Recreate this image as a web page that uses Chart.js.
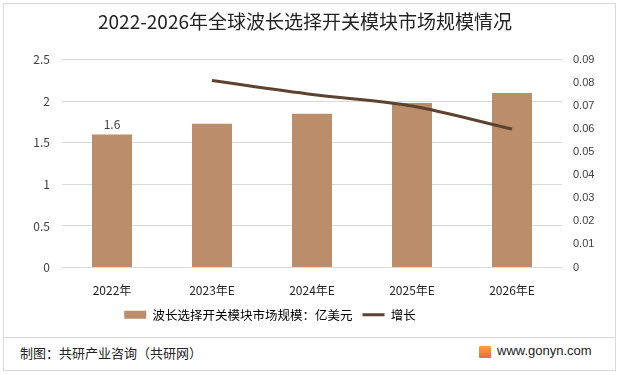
<!DOCTYPE html>
<html>
<head>
<meta charset="utf-8">
<script src="https://cdn.jsdelivr.net/npm/chart.js@4.4.0/dist/chart.umd.min.js"></script>
<style>
  body { margin: 0; background: #fff; }
  #wrap { position: relative; width: 624px; height: 375px; overflow: hidden; }
  #frame { position: absolute; left: 3px; top: 3px; width: 613px; height: 368px; border: 1px solid #d9d9d9; box-sizing: border-box; }
  #sep { position: absolute; left: 4px; top: 337px; width: 611px; height: 1px; background: #d9d9d9; }
  #chart { position: absolute; left: 0; top: 0; }
  #source { position: absolute; left: 20px; top: 343px; font: 13px 'Noto Sans CJK SC', sans-serif; color: #222; }
  #site { position: absolute; left: 497px; top: 343px; font: 13px 'Liberation Sans', Arial, sans-serif; color: #222; }
  #logo { position: absolute; left: 479px; top: 346px; width: 12px; height: 12px; background: linear-gradient(#f7a14a, #ee6a2d); border-radius: 1px; }
</style>
</head>
<body>
<div id="wrap">
  <div id="frame"></div>
  <canvas id="chart" width="624" height="337"></canvas>
  <div id="sep"></div>
  <div id="logo"></div>
  <div id="source">制图：共研产业咨询（共研网）</div>
  <div id="site">www.gonyn.com</div>
</div>
<script>
// chart data
const years = ['2022年', '2023年E', '2024年E', '2025年E', '2026年E'];
const marketSize = [1.6, 1.73, 1.85, 1.98, 2.1];
const growth = [null, 0.081, 0.075, 0.070, 0.060];
const leftTicks = [0, 0.5, 1, 1.5, 2, 2.5];
const rightTicks = [0, 0.01, 0.02, 0.03, 0.04, 0.05, 0.06, 0.07, 0.08, 0.09];

const barColor = '#bb8d6b';
const lineColor = '#5e4230';
const cjk = "'Noto Sans CJK SC', sans-serif";

// value label above the first bar only
const firstLabel = {
    id: 'firstLabel',
    afterDatasetsDraw(chart) {
        const bar = chart.getDatasetMeta(0).data[0];
        const ctx = chart.ctx;
        ctx.save();
        ctx.font = "12px " + cjk;
        ctx.fillStyle = '#404040';
        ctx.textAlign = 'center';
        ctx.textBaseline = 'bottom';
        ctx.fillText(String(marketSize[0]), bar.x, bar.y - 4);
        ctx.restore();
    }
};

// legend sits a bit left of centre in the original
const legendShift = {
    id: 'legendShift',
    afterUpdate(chart) {
        chart.legend.left -= 35;
        chart.legend.right -= 35;
    }
};

new Chart(document.getElementById('chart').getContext('2d'), {
    type: 'bar',
    data: {
        labels: years,
        datasets: [{
            label: '波长选择开关模块市场规模：亿美元',
            data: marketSize,
            backgroundColor: barColor,
            barPercentage: 0.4,
            categoryPercentage: 1,
            yAxisID: 'y',
            order: 2
        }, {
            type: 'line',
            label: '增长',
            data: growth,
            borderColor: lineColor,
            borderWidth: 3,
            pointRadius: 0,
            tension: 0.3,
            yAxisID: 'y1',
            order: 1
        }]
    },
    options: {
        responsive: false,
        animation: false,
        layout: { padding: { left: 0, right: 14, top: 0, bottom: 6 } },
        plugins: {
            title: {
                display: true,
                text: '2022-2026年全球波长选择开关模块市场规模情况',
                color: '#222',
                font: { family: cjk, size: 19, weight: 'normal' },
                padding: { top: 10, bottom: 27 }
            },
            legend: {
                position: 'bottom',
                labels: {
                    usePointStyle: true,
                    pointStyleWidth: 22,
                    boxHeight: 8,
                    padding: 10,
                    color: '#222',
                    font: { family: cjk, size: 12.5 },
                    generateLabels: () => [
                        { text: '波长选择开关模块市场规模：亿美元', fillStyle: barColor, strokeStyle: barColor, lineWidth: 0, pointStyle: 'rect', datasetIndex: 0, hidden: false },
                        { text: '增长', fillStyle: lineColor, strokeStyle: lineColor, lineWidth: 3, pointStyle: 'line', datasetIndex: 1, hidden: false }
                    ]
                }
            },
            tooltip: { enabled: false }
        },
        scales: {
            x: {
                grid: { display: false },
                border: { display: false },
                ticks: { color: '#222', font: { family: cjk, size: 12 }, padding: 8 },
                afterFit: axis => { axis.height = 31; }
            },
            y: {
                position: 'left',
                min: 0,
                max: 2.5,
                afterBuildTicks: axis => { axis.ticks = leftTicks.map(v => ({ value: v })); },
                grid: { color: '#d9d9d9', drawTicks: false },
                border: { display: false },
                ticks: { color: '#404040', font: { family: cjk, size: 12 }, padding: 12, callback: v => String(v) },
                afterFit: axis => { axis.width = 62; }
            },
            y1: {
                position: 'right',
                min: 0,
                max: 0.09,
                afterBuildTicks: axis => { axis.ticks = rightTicks.map(v => ({ value: v })); },
                grid: { display: false, drawTicks: false },
                border: { display: false },
                ticks: { color: '#404040', font: { family: "'Liberation Sans', sans-serif", size: 11 }, padding: 11, callback: v => String(+v.toFixed(2)) },
                afterFit: axis => { axis.width = 48; }
            }
        }
    },
    plugins: [firstLabel, legendShift]
});
</script>
</body>
</html>
